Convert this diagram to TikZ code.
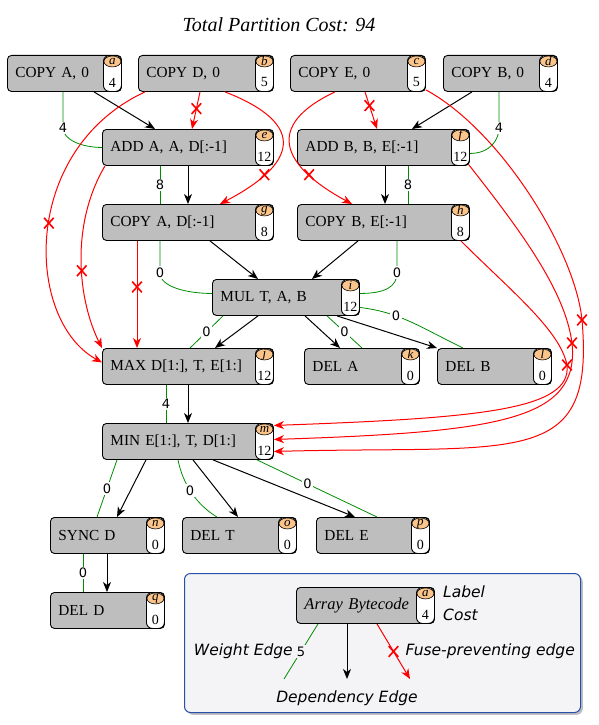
\documentclass[tikz,border=0pt]{standalone}
\usepackage{fontspec}
\usepackage{tikz}
\usetikzlibrary{arrows.meta,positioning,shapes.misc,shadows}

\setmainfont{Liberation Serif}
\newfontfamily\sansf{DejaVu Sans}
\definecolor{boxgray}{RGB}{190,190,190}
\definecolor{peach}{RGB}{250,196,138}
\definecolor{wgreen}{RGB}{0,140,0}
\definecolor{lgblue}{RGB}{40,80,170}
\definecolor{lgbg}{RGB}{244,244,246}

\begin{document}
\begin{tikzpicture}[x=1pt, y=-1pt, >={Stealth[length=10pt,width=8pt,inset=3pt]}, node distance=75pt]

  \tikzset{bc/.style 2 args={rectangle, rounded corners=4pt, draw=black, fill=boxgray, line width=0.9pt,
      minimum height=36pt, inner xsep=8pt, inner ysep=0pt, align=left, font=\fontsize{15.3}{17}\selectfont,
      path picture={
        \draw[fill=white, rounded corners=6pt, line width=0.9pt] ([xshift=-18pt]path picture bounding box.north east) rectangle (path picture bounding box.south east);
        \draw[fill=peach, line width=0.6pt] ([xshift=-9pt,yshift=-6pt]path picture bounding box.north east) ellipse (8.5pt and 5.5pt);
        \node[anchor=center, inner sep=0pt, text width=16pt, align=center, minimum size=0pt, font=\fontsize{13}{13}\selectfont\itshape] at ([xshift=-9pt,yshift=-6pt]path picture bounding box.north east) {#1};
        \node[anchor=center, inner sep=0pt, text width=18pt, align=center, minimum size=0pt, font=\fontsize{14}{14}\selectfont] at ([xshift=-9pt,yshift=9pt]path picture bounding box.south east) {#2};
      }}}
  \tikzstyle{dep}=[->, black, line width=1pt]
  \tikzstyle{fuse}=[->, red, line width=1pt]
  \tikzstyle{wt}=[wgreen, line width=0.8pt]
  \tikzstyle{wl}=[font=\sansf\fontsize{13}{13}\selectfont, fill=white, inner sep=1.5pt, text=black]
  \tikzstyle{xm}=[cross out, draw=red, line width=1.6pt, minimum width=8pt, minimum height=9pt, inner sep=0pt]
  \tikzstyle{legtxt}=[font=\sansf\itshape\fontsize{15.5}{17}\selectfont, inner sep=1pt]

  \useasboundingbox (0,0) rectangle (598,725);

  \node[font=\fontsize{20}{22}\selectfont\itshape] (title) at (279,25) {Total Partition Cost: 94};

  \node[bc={a}{4}, text width=98pt, anchor=north west] (a) at (7,55) {COPY A, 0};
  \node[bc={b}{5}, text width=119pt, anchor=north west] (b) at (138,55) {COPY D, 0};
  \node[bc={c}{5}, text width=119pt, anchor=north west] (c) at (290,55) {COPY E, 0};
  \node[bc={d}{4}, text width=98pt, anchor=north west] (d) at (443,55) {COPY B, 0};
  \node[bc={e}{12}, text width=155pt, anchor=north west] (e) at (102,129) {ADD A, A, D[:-1]};
  \node[bc={f}{12}, text width=156pt, anchor=north west] (f) at (297,129) {ADD B, B, E[:-1]};
  \node[bc={g}{8}, text width=155pt, below of=e] (g) {COPY A, D[:-1]};
  \node[bc={h}{8}, text width=156pt, below of=f] (h) {COPY B, E[:-1]};
  \node[bc={i}{12}, text width=131pt, anchor=north west] (i) at (212,279) {MUL T, A, B};
  \node[bc={j}{12}, text width=155pt, anchor=north west] (j) at (102,348) {MAX D[1:], T, E[1:]};
  \node[bc={k}{0}, text width=99pt, anchor=north west] (k) at (304,348) {DEL A};
  \node[bc={l}{0}, text width=98pt, anchor=north west] (l) at (437,348) {DEL B};
  \node[bc={m}{12}, text width=155pt, below of=j] (m) {MIN E[1:], T, D[1:]};
  \node[bc={n}{0}, text width=98pt, anchor=north west] (n) at (50,517) {SYNC D};
  \node[bc={o}{0}, text width=98pt, anchor=north west] (o) at (182,517) {DEL T};
  \node[bc={p}{0}, text width=97pt, anchor=north west] (p) at (316,517) {DEL E};
  \node[bc={q}{0}, text width=98pt, below of=n] (q) {DEL D};

  % weight edges
  \draw[wt] ([xshift=56pt]a.south west) -- ++(0,36) node[wl] {4} .. controls +(0,12) and +(-20,0) .. (e.west);
  \draw[wt] ([xshift=56pt]d.south west) -- ++(0,36) node[wl] {4} .. controls +(0,12) and +(20,0) .. ([yshift=-6pt]f.east);
  \path[wt] ([xshift=58pt]e.south west) edge node[wl] {8} ([xshift=58pt]g.north west)
            ([xshift=111pt]f.south west) edge node[wl] {8} ([xshift=111pt]h.north west);
  \draw[wt] ([xshift=58pt]g.south west) -- ++(0,32) node[wl] {0} .. controls +(0,14) and +(-25,0) .. ([yshift=4pt]i.west);
  \draw[wt] ([xshift=100pt]h.south west) -- ++(0,32) node[wl] {0} .. controls +(0,14) and +(25,0) .. ([yshift=4pt]i.east);
  \path[wt] ([xshift=11pt]i.south west) edge node[wl] {0} ([xshift=88pt]j.north west)
            ([xshift=115pt]i.south west) edge node[wl] {0} ([xshift=58pt]k.north west)
            ([xshift=64pt]j.south west) edge node[wl] {4} ([xshift=64pt]m.north west)
            ([xshift=15pt]m.south west) edge node[wl] {0} ([xshift=47pt]n.north west)
            ([xshift=155pt]m.south west) edge node[wl, pos=0.42] {0} ([xshift=61pt]p.north west)
            ([xshift=33pt]n.south west) edge node[wl] {0} ([xshift=33pt]q.north west);
  \draw[wt] ([yshift=-10pt]i.east) .. controls +(40,5) and +(-45,-22) .. node[wl, pos=0.35] {0} ([xshift=26pt]l.north west);
  \draw[wt] ([xshift=76pt]m.south west) .. controls +(5,25) and +(-20,-12) .. node[wl, pos=0.45] {0} ([xshift=35pt]o.north west);

  % dependency edges
  \path[dep] ([xshift=87pt]a.south west) edge ([xshift=53pt]e.north west)
             ([xshift=29pt]d.south west) edge ([xshift=115pt]f.north west)
             ([xshift=86pt]e.south west) edge ([xshift=86pt]g.north west)
             ([xshift=88pt]f.south west) edge ([xshift=88pt]h.north west)
             ([xshift=108pt]g.south west) edge ([xshift=46pt]i.north west)
             ([xshift=61pt]h.south west) edge ([xshift=100pt]i.north west)
             ([xshift=46pt]i.south west) edge ([xshift=113pt]j.north west)
             ([xshift=93pt]i.south west) edge ([xshift=36pt]k.north west)
             ([xshift=125pt]i.south west) edge (l.north west)
             ([xshift=86pt]j.south west) edge ([xshift=86pt]m.north west)
             ([xshift=44pt]m.south west) edge ([xshift=67pt]n.north west)
             ([xshift=91pt]m.south west) edge ([xshift=56pt]o.north west)
             ([xshift=111pt]m.south west) edge ([xshift=39pt]p.north west)
             ([xshift=57pt]n.south west) edge ([xshift=57pt]q.north west);

  % fuse-preventing edges
  \path[fuse] ([xshift=62pt]b.south west) edge node[xm, pos=0.45] {} ([xshift=90pt]e.north west)
              ([xshift=75pt]c.south west) edge node[xm, pos=0.37] {} ([xshift=80pt]f.north west)
              ([xshift=35pt]g.south west) edge node[xm, pos=0.43] {} ([xshift=35pt]j.north west);
  \draw[fuse] ([xshift=87pt]b.south west) .. controls (310,125) and (295,165) .. node[xm, pos=0.75] {} ([xshift=118pt]g.north west);
  \draw[fuse] ([xshift=45pt]c.south west) .. controls (265,125) and (280,165) .. node[xm, pos=0.75] {} ([xshift=55pt]h.north west);
  \draw[fuse] ([xshift=7pt]b.south west) .. controls (20,150) and (25,320) .. node[xm, pos=0.47] {} ([yshift=4pt]j.west);
  \draw[fuse] ([xshift=3pt]e.south west) .. controls (70,225) and (78,300) .. node[xm, pos=0.55] {} (j.north west);
  \draw[fuse] ([yshift=2pt]c.south east) .. controls (500,130) and (575,250) .. (582,320) node[xm] {}
              .. controls (595,470) and (520,445) .. ([yshift=-10pt]m.east);
  \draw[fuse] ([xshift=-1pt,yshift=1pt]f.south east) .. controls (520,230) and (565,290) .. (572,343) node[xm] {}
              .. controls (580,420) and (500,432) .. ([yshift=2pt]m.east);
  \draw[fuse] ([xshift=-9pt]h.south east) .. controls (510,290) and (560,330) .. (567,365) node[xm] {}
              .. controls (572,410) and (480,418) .. ([yshift=16pt]m.east);

  % legend
  \node[draw=lgblue, fill=lgbg, rounded corners=6pt, line width=1pt, drop shadow, minimum width=396pt, minimum height=139pt, anchor=north west] (leg) at (184,573) {};
  \node[bc={a}{4}, text width=122pt, anchor=north west, font=\fontsize{16.5}{18}\selectfont\itshape] (lg) at (296,587) {Array Bytecode};
  \node[legtxt, anchor=west] (lab) at (442,592) {Label};
  \node[legtxt, anchor=west] (cst) at (442,615) {Cost};
  \coordinate (wend) at (284,679);
  \coordinate (dend) at (347,679);
  \coordinate (fend) at (410,679);
  \draw[wt] ([xshift=22pt]lg.south west) -- node[wl, fill=lgbg] (w5) {5} (wend);
  \draw[dep] ([xshift=51pt]lg.south west) -- (dend);
  \draw[fuse] ([xshift=81pt]lg.south west) -- node[xm] (fx) {} (fend);
  \node[legtxt, left=1pt of w5] {Weight Edge};
  \node[legtxt, right=6pt of fx] {Fuse-preventing edge};
  \node[legtxt, below=11pt of dend] {Dependency Edge};
\end{tikzpicture}
\end{document}
